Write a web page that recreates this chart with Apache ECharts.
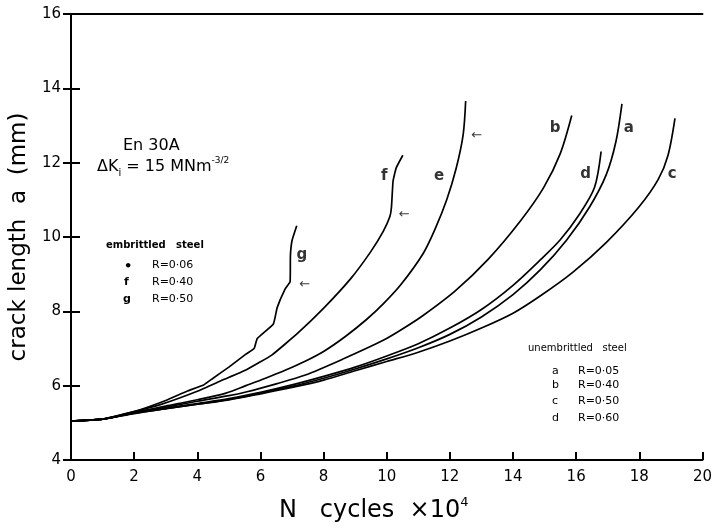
<!DOCTYPE html>
<html><head><meta charset="utf-8">
<script src="https://cdn.jsdelivr.net/npm/echarts@6/dist/echarts.min.js"></script>
<style>html,body{margin:0;padding:0;background:#fff}#c{width:715px;height:528px}</style>
</head><body><div id="c"></div>
<script>
// ---- data (N cycles x10^4 , crack length mm) ----
const curveA = [[0,5.05],[1,5.1],[2,5.26],[3,5.38],[4,5.5],[5,5.63],[6,5.8],[7,5.98],[8,6.2],[9,6.45],[10,6.72],[11,7.02],[12,7.38],[13,7.85],[14,8.45],[14.87,9.12],[15.7,9.92],[16.42,10.8],[16.95,11.67],[17.26,12.57],[17.45,13.58]];
const curveB = [[0,5.05],[1,5.1],[2,5.27],[3,5.42],[4,5.58],[5,5.73],[5.54,5.83],[6.5,6.05],[7.4,6.28],[8.65,6.73],[9.89,7.22],[10.51,7.53],[11.14,7.88],[12.17,8.55],[13.21,9.4],[14.24,10.44],[14.97,11.33],[15.49,12.23],[15.86,13.27]];
const curveC = [[0,5.05],[1,5.1],[2,5.25],[3,5.38],[4,5.5],[5,5.62],[6,5.78],[7,5.95],[8,6.15],[9,6.4],[10,6.65],[11,6.9],[12,7.2],[13,7.55],[14,7.95],[14.87,8.42],[15.89,9.05],[16.95,9.85],[17.98,10.8],[18.6,11.55],[18.91,12.2],[19.13,13.19]];
const curveD = [[0,5.05],[1,5.1],[2,5.27],[3,5.39],[4,5.52],[5,5.65],[6,5.82],[7,6.02],[8,6.25],[9,6.5],[10,6.8],[11,7.13],[12,7.55],[13,8.05],[14,8.7],[14.87,9.39],[15.49,9.92],[16.11,10.62],[16.58,11.33],[16.79,12.3]];
const curveE = [[0,5.05],[1,5.1],[2,5.28],[3,5.45],[4,5.62],[4.91,5.8],[5.54,6.0],[6.16,6.2],[6.8,6.42],[7.4,6.65],[8.0,6.92],[8.7,7.33],[9.36,7.78],[9.89,8.2],[10.45,8.72],[11.15,9.55],[11.55,10.25],[11.9,11.0],[12.2,11.85],[12.42,12.75],[12.5,13.66]];
const curveF = [[0,5.05],[1,5.1],[2,5.3],[2.83,5.49],[4,5.85],[4.8,6.15],[5.54,6.42],[6.37,6.83],[7.19,7.42],[8.02,8.1],[8.86,8.88],[9.49,9.6],[9.89,10.15],[10.1,10.55],[10.15,10.8],[10.2,11.5],[10.3,11.86],[10.51,12.2]];
const curveG = [[0,5.05],[1,5.1],[2,5.3],[3.0,5.6],[3.67,5.85],[4.2,6.02],[4.5,6.2],[5.0,6.5],[5.54,6.85],[5.8,7.0],[5.9,7.27],[6.41,7.66],[6.53,8.1],[6.78,8.6],[6.94,8.8],[6.95,9.5],[7.0,9.9],[7.15,10.3]];
const curveNames = ['a','b','c','d','e','f','g'];
const xTickLabels = ['0','2','4','6','8','10','12','14','16','18','20'];
const yTickLabels = ['4','6','8','10','12','14','16'];
// annotation anchors (data coordinates)
const letterLabels = [['g',7.31,9.52],['f',9.92,11.65],['e',11.66,11.65],['b',15.33,12.92],['a',17.67,12.92],['d',16.3,11.7],['c',19.04,11.7]];
const arrowLabels = [['←',7.4,8.73],['←',10.55,10.61],['←',12.85,12.73]];

const chart = echarts.init(document.getElementById('c'));
const FONT = 'DejaVu Sans';
const curves = [curveA,curveB,curveC,curveD,curveE,curveF,curveG];
const series = curves.map((d,i)=>({
  name: curveNames[i], type:'line', data:d, showSymbol:false, symbol:'none',
  smooth: i>=5 ? 0.12 : 0.3,
  lineStyle:{color:'#000', width:1.7}, silent:true, animation:false
}));
series.push({
  type:'scatter', silent:true, animation:false, symbolSize:1, itemStyle:{color:'rgba(0,0,0,0)'},
  data: letterLabels.map(l=>({name:l[0], value:[l[1],l[2]]})),
  label:{show:true, position:'inside', formatter:p=>p.name, color:'#000', fontSize:15, fontWeight:'bold', fontFamily:FONT}
});
series.push({
  type:'scatter', silent:true, animation:false, symbolSize:1, itemStyle:{color:'rgba(0,0,0,0)'},
  data: arrowLabels.map(l=>({name:l[0], value:[l[1],l[2]]})),
  label:{show:true, position:'inside', formatter:p=>p.name, color:'#000', fontSize:13, fontFamily:FONT}
});

const txt = (x,y,t,fs,fw,align) => ({type:'text', left:x, top:y, style:{text:t, fontSize:fs, fontWeight:fw||'normal', fontFamily:FONT, fill:'#000', textAlign:align||'left', textVerticalAlign:'middle'}});

chart.setOption({
  backgroundColor:'#fff',
  animation:false,
  grid:{left:62, right:10, top:14, bottom:62},
  xAxis:[{
    type:'value', min:0, max:20, interval:2,
    axisLine:{show:true, lineStyle:{color:'#000', width:2}},
    axisTick:{show:true, inside:true, length:8, lineStyle:{color:'#000', width:2}},
    splitLine:{show:false},
    axisLabel:{color:'#000', fontSize:15, fontFamily:FONT, margin:10, formatter:v=>xTickLabels[Math.round(v/2)]},
    name:'{n|N   cycles  ×10}{s|4}', nameLocation:'middle', nameGap:36,
    nameTextStyle:{padding:[0,26,0,0], rich:{n:{fontSize:24, fontFamily:FONT, color:'#000', lineHeight:30}, s:{fontSize:13, fontFamily:FONT, color:'#000', verticalAlign:'top', lineHeight:30}}}
  },{
    type:'value', position:'top', min:0, max:20, interval:2,
    axisLine:{show:true, lineStyle:{color:'#000', width:2}}, axisTick:{show:false}, axisLabel:{show:false}, splitLine:{show:false}
  }],
  yAxis:[{
    type:'value', min:4, max:16, interval:2,
    axisLine:{show:true, lineStyle:{color:'#000', width:2}},
    axisTick:{show:true, inside:true, length:9, lineStyle:{color:'#000', width:2}},
    splitLine:{show:false},
    axisLabel:{color:'#000', fontSize:15, fontFamily:FONT, margin:10, formatter:v=>yTickLabels[Math.round((v-4)/2)]},
    name:'crack length  a  (mm)', nameLocation:'middle', nameGap:25, nameRotate:90,
    nameTextStyle:{fontSize:23, fontFamily:FONT, color:'#000'}
  },{
    type:'value', position:'right', min:4, max:16, interval:2,
    axisLine:{show:true, lineStyle:{color:'#000', width:2}},
    axisTick:{show:true, inside:true, length:8, lineStyle:{color:'#000', width:2}},
    axisLabel:{show:false}, splitLine:{show:false}
  }],
  series: series,
  graphic:[
    txt(123,138,'En 30A',16,'normal'),
    {type:'text', left:97, top:156, style:{
      text:'{m|ΔK}{sub|i}{m| = 15 MNm}{sup|-3/2}', fontFamily:FONT, fill:'#000',
      rich:{m:{fontSize:16, fontFamily:FONT, lineHeight:22, verticalAlign:'middle'}, sub:{fontSize:10, fontFamily:FONT, verticalAlign:'bottom', lineHeight:22}, sup:{fontSize:9, fontFamily:FONT, verticalAlign:'top', lineHeight:22}}
    }},
    txt(106,240,'embrittled   steel',10,'bold'),
    txt(124,260,'•',13,'bold'),
    txt(152,260,'R=0·06',11,'normal'),
    txt(124,277,'f',11,'bold'),
    txt(152,277,'R=0·40',11,'normal'),
    txt(123,294,'g',11,'bold'),
    txt(152,294,'R=0·50',11,'normal'),
    txt(528,343,'unembrittled   steel',10,'normal'),
    txt(552,366,'a',11,'normal'),
    txt(578,366,'R=0·05',11,'normal'),
    txt(552,380,'b',11,'normal'),
    txt(578,380,'R=0·40',11,'normal'),
    txt(552,396,'c',11,'normal'),
    txt(578,396,'R=0·50',11,'normal'),
    txt(552,413,'d',11,'normal'),
    txt(578,413,'R=0·60',11,'normal')
  ]
});
</script></body></html>
